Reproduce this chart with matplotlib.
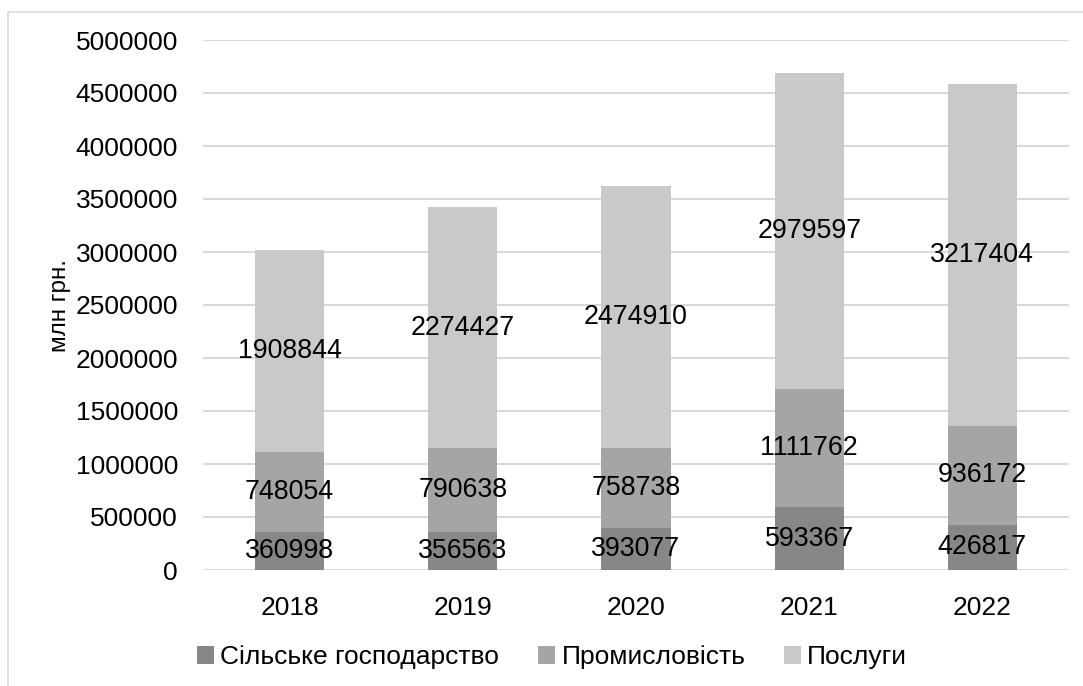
import numpy as np
import matplotlib.pyplot as plt
from matplotlib.patches import Rectangle

plt.rcParams['font.family'] = ['Liberation Sans', 'DejaVu Sans']

years = ['2018', '2019', '2020', '2021', '2022']
agriculture = [360998, 356563, 393077, 593367, 426817]
industry = [748054, 790638, 758738, 1111762, 936172]
services = [1908844, 2274427, 2474910, 2979597, 3217404]

series = [
    ('Сільське господарство', agriculture, '#878787'),
    ('Промисловість', industry, '#a5a5a5'),
    ('Послуги', services, '#c9c9c9'),
]

fig = plt.figure(figsize=(10.83, 6.86), dpi=100)
ax = fig.add_axes([203/1083, 1 - 570/686, 866/1083, 530/686])

# chart border (only left/top visible in the crop)
fig.patches.append(Rectangle((8/1083, -0.1), 1.2, 0.1 + 1 - 12/686,
                             transform=fig.transFigure, fill=False,
                             edgecolor='#d9d9d9', lw=1.2))

x = np.arange(len(years))
bottom = np.zeros(len(years))
for name, vals, col in series:
    vals = np.array(vals)
    ax.bar(x, vals, 0.4, bottom=bottom, color=col, label=name, zorder=2)
    for xi, b, v in zip(x, bottom, vals):
        ax.text(xi, b + v / 2, str(v), ha='center', va='center',
                fontsize=19.3, color='black', zorder=3)
    bottom += vals

ax.set_xlim(-0.5, 4.5)
ax.set_ylim(0, 5000000)
ax.set_yticks(np.arange(0, 5000001, 500000))
ax.set_yticklabels([str(v) for v in range(0, 5000001, 500000)])
ax.set_xticks(x)
ax.set_xticklabels(years)
ax.tick_params(axis='y', length=0, pad=18, labelsize=19)
ax.tick_params(axis='x', length=0, pad=19, labelsize=19)
ax.grid(axis='y', color='#d9d9d9', lw=1.5, zorder=0)
for s in ax.spines.values():
    s.set_visible(False)
ax.set_ylabel('млн грн.', fontsize=17.5, labelpad=3)

fig.legend(loc='center', bbox_to_anchor=(552/1083, 1 - 657/686), ncol=3,
           frameon=False, fontsize=19, handlelength=0.65, handleheight=0.65,
           handletextpad=0.25, columnspacing=1.45)

fig.savefig('out.png', dpi=100)
